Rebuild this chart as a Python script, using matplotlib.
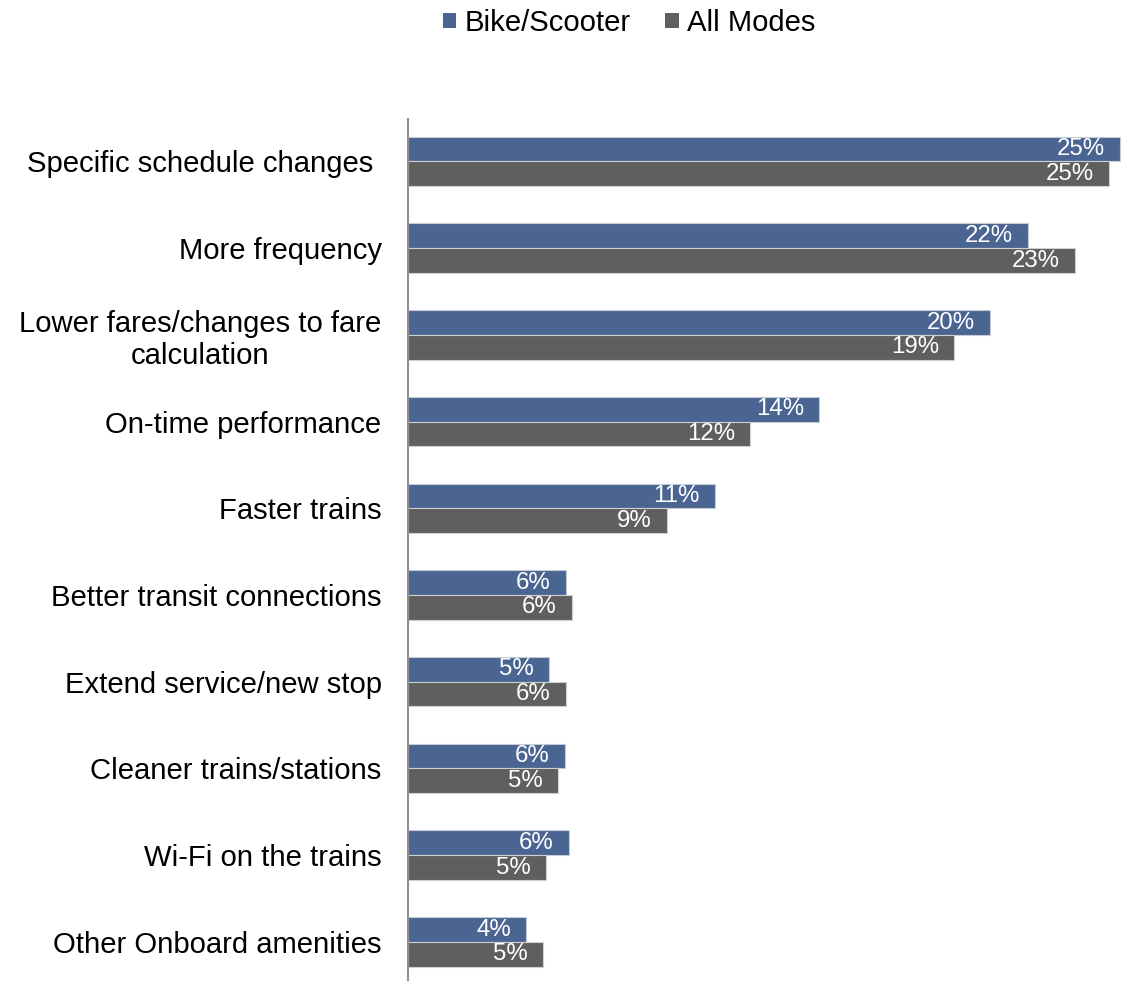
import matplotlib.pyplot as plt
import numpy as np
from matplotlib.patches import Patch

plt.rcParams['font.family'] = ['Liberation Sans', 'DejaVu Sans']

categories = ['Specific schedule changes ', 'More frequency',
              'Lower fares/changes to fare\ncalculation', 'On-time performance',
              'Faster trains', 'Better transit connections',
              'Extend service/new stop', 'Cleaner trains/stations',
              'Wi-Fi on the trains', 'Other Onboard amenities']
bike = [25.03, 21.79, 20.46, 14.45, 10.79, 5.55, 4.96, 5.52, 5.66, 4.15]
all_modes = [24.64, 23.44, 19.19, 12.02, 9.10, 5.76, 5.55, 5.27, 4.85, 4.75]
series_names = ['Bike/Scooter', 'All Modes']

blue = '#4a6591'
grey = '#5f5f5f'

fig = plt.figure(figsize=(11.34, 9.81), dpi=100)
ax = fig.add_axes([0.3598, 0.001, 0.635, 0.8777])

y = np.arange(len(categories))
h = 0.285
b1 = ax.barh(y - h / 2, bike, height=h, color=blue, edgecolor='#c5ccd8', linewidth=0.8)
b2 = ax.barh(y + h / 2, all_modes, height=h, color=grey, edgecolor='#cfcfcf', linewidth=0.8)

# value labels sit inside the bar ends
for bars, vals in ((b1, bike), (b2, all_modes)):
    for rect, v in zip(bars, vals):
        ax.annotate('%d%%' % round(v), xy=(v, rect.get_y() + rect.get_height() / 2),
                    xytext=(-11, 0), textcoords='offset points',
                    ha='right', va='center', color='white', fontsize=17.3)

ax.set_xlim(0, 25.3)
ax.set_ylim(9.44, -0.49)
ax.set_yticks(y)
ax.set_yticklabels(categories, fontsize=21.1)
for lbl in ax.get_yticklabels():
    lbl.set_multialignment('center')
ax.tick_params(axis='y', length=0, pad=19)
ax.set_xticks([])
for s in ['top', 'right', 'bottom']:
    ax.spines[s].set_visible(False)
ax.spines['left'].set_color('#909090')
ax.spines['left'].set_linewidth(1.5)

handles = [Patch(facecolor=blue), Patch(facecolor=grey)]
fig.legend(handles, series_names, loc='center', bbox_to_anchor=(0.5547, 0.9766),
           ncol=2, frameon=False, fontsize=21.1, handlelength=0.45, handleheight=0.45,
           handletextpad=0.28, columnspacing=1.2)

fig.savefig('out.png', dpi=100)
